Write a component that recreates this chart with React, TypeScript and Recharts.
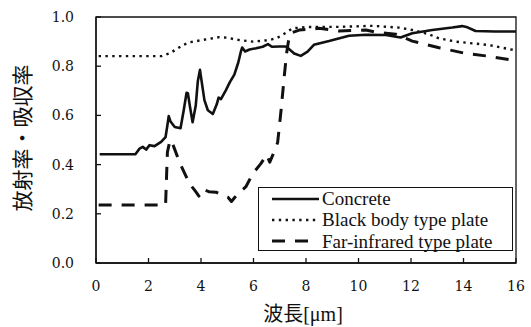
import {
  LineChart,
  Line,
  XAxis,
  YAxis,
  Legend,
  Label,
  ReferenceArea,
} from "recharts";

// wavelength [um], emissivity/absorptivity
const concrete: [number, number][] = [
  [0.14, 0.442], [1.5, 0.442], [1.66, 0.465], [1.78, 0.472], [1.91, 0.461],
  [2.04, 0.479], [2.23, 0.475], [2.48, 0.492], [2.65, 0.512], [2.72, 0.56],
  [2.77, 0.597], [2.84, 0.575], [3.0, 0.553], [3.22, 0.548], [3.34, 0.62],
  [3.45, 0.692], [3.5, 0.69], [3.58, 0.635], [3.68, 0.572], [3.8, 0.64],
  [3.88, 0.74], [3.96, 0.785], [4.05, 0.72], [4.13, 0.662], [4.26, 0.621],
  [4.45, 0.606], [4.6, 0.645], [4.67, 0.672], [4.76, 0.666], [4.95, 0.703],
  [5.1, 0.735], [5.27, 0.766], [5.42, 0.815], [5.52, 0.86], [5.57, 0.876],
  [5.68, 0.86], [5.85, 0.868], [6.1, 0.873], [6.35, 0.879], [6.55, 0.89],
  [6.7, 0.879], [7.0, 0.88], [7.22, 0.88], [7.33, 0.872], [7.55, 0.852],
  [7.8, 0.842], [8.06, 0.859], [8.3, 0.887], [8.88, 0.902], [9.64, 0.924],
  [10.28, 0.928], [11.04, 0.927], [11.6, 0.917], [12.05, 0.934], [12.81, 0.947],
  [13.57, 0.957], [13.95, 0.963], [14.15, 0.958], [14.46, 0.943], [15.2, 0.941],
  [16, 0.941],
];

const blackBody: [number, number][] = [
  [0.1, 0.841], [2.5, 0.841], [2.8, 0.852], [3.05, 0.868], [3.3, 0.885],
  [3.56, 0.897], [4.19, 0.909], [4.7, 0.918], [5.0, 0.916], [5.33, 0.908],
  [5.97, 0.9], [6.6, 0.906], [6.9, 0.915], [7.1, 0.927], [7.49, 0.954],
  [8.0, 0.959], [9.26, 0.96], [10.53, 0.964], [11.54, 0.957], [12.05, 0.947],
  [12.68, 0.93], [13.07, 0.913], [13.7, 0.9], [14.97, 0.886], [16, 0.864],
];

const farInfrared: [number, number][] = [
  [0.1, 0.236], [2.65, 0.236], [2.72, 0.45], [2.82, 0.5], [2.9, 0.49],
  [3.18, 0.41], [3.56, 0.323], [3.8, 0.29], [3.92, 0.272], [4.05, 0.3],
  [4.3, 0.29], [4.57, 0.288], [4.83, 0.275], [5.02, 0.268], [5.16, 0.25],
  [5.3, 0.268], [5.5, 0.29], [5.71, 0.31], [5.97, 0.363], [6.28, 0.404],
  [6.5, 0.44], [6.62, 0.41], [6.78, 0.45], [6.92, 0.49], [7.05, 0.621],
  [7.17, 0.757], [7.26, 0.852], [7.33, 0.9], [7.4, 0.934], [7.74, 0.947],
  [8.5, 0.954], [9.26, 0.943], [10.28, 0.947], [10.66, 0.938], [11.42, 0.93],
  [12.05, 0.902], [13.07, 0.875], [14.08, 0.852], [14.84, 0.842], [16, 0.823],
];

const xTicks = [0, 2, 4, 6, 8, 10, 12, 14, 16];
const yTicks = [0, 0.2, 0.4, 0.6, 0.8, 1.0];

const INK = "#111";
const TICK_FONT = "'DejaVu Serif', serif";
const TEXT_FONT = "'Liberation Serif', 'Noto Sans CJK JP', serif";

const series = [
  { name: "Concrete", data: concrete, width: 2.6, dash: undefined, sample: 47 },
  { name: "Black body type plate", data: blackBody, width: 2.4, dash: "2.4 4.4", sample: 47 },
  { name: "Far-infrared type plate", data: farInfrared, width: 3, dash: "13 10", sample: 38 },
];

const toPoints = (pts: [number, number][]) => pts.map(([x, y]) => ({ x, y }));

function LegendBox() {
  return (
    <div
      style={{
        boxSizing: "border-box",
        width: "100%",
        height: "100%",
        border: `1px solid ${INK}`,
        background: "#fff",
        paddingLeft: 13,
        fontFamily: TEXT_FONT,
        fontSize: 19,
        color: INK,
      }}
    >
      {series.map((s) => (
        <div
          key={s.name}
          style={{ display: "flex", alignItems: "center", height: 21.3, lineHeight: "21px" }}
        >
          <svg width={47} height={8} style={{ marginRight: 3 }}>
            <line
              x1={0}
              x2={s.sample}
              y1={4}
              y2={4}
              stroke={INK}
              strokeWidth={s.width}
              strokeDasharray={s.dash}
            />
          </svg>
          <span>{s.name}</span>
        </div>
      ))}
    </div>
  );
}

function XTitle(props: any) {
  const vb = props.viewBox || {};
  return (
    <text
      x={vb.x + vb.width / 2 - 3}
      y={vb.y + 51}
      textAnchor="middle"
      dominantBaseline="central"
      fontFamily={TEXT_FONT}
      fontSize={20}
      fill={INK}
    >
      波長[μm]
    </text>
  );
}

function YTitle(props: any) {
  const vb = props.viewBox || {};
  const cx = vb.x + 23;
  const cy = vb.y + vb.height / 2 - 2;
  return (
    <text
      x={cx}
      y={cy}
      transform={`rotate(-90, ${cx}, ${cy})`}
      textAnchor="middle"
      dominantBaseline="central"
      fontFamily={TEXT_FONT}
      fontSize={21}
      fill={INK}
    >
      放射率・吸収率
    </text>
  );
}

export default function App() {
  return (
    <div style={{ position: "absolute", left: 0, top: 0, background: "#fff" }}>
      <LineChart
        width={531}
        height={327}
        margin={{ top: 17, right: 15, bottom: 0, left: 0 }}
      >
        <XAxis
          type="number"
          dataKey="x"
          domain={[0, 16]}
          ticks={xTicks}
          allowDataOverflow
          height={64}
          tickSize={-5}
          tickMargin={23}
          axisLine={{ stroke: INK, strokeWidth: 1.3 }}
          tickLine={{ stroke: INK, strokeWidth: 1.3 }}
          tick={{ fill: INK, fontFamily: TICK_FONT, fontSize: 14 }}
        >
          <Label content={<XTitle />} />
        </XAxis>
        <YAxis
          type="number"
          dataKey="y"
          domain={[0, 1]}
          ticks={yTicks}
          allowDataOverflow
          width={96}
          tickSize={-5}
          tickMargin={27}
          tickFormatter={(v: number) => v.toFixed(1)}
          axisLine={{ stroke: INK, strokeWidth: 1.3 }}
          tickLine={{ stroke: INK, strokeWidth: 1.3 }}
          tick={{ fill: INK, fontFamily: TICK_FONT, fontSize: 14 }}
        >
          <Label content={<YTitle />} />
        </YAxis>
        <ReferenceArea
          x1={0}
          x2={16}
          y1={0}
          y2={1}
          fill="none"
          stroke={INK}
          strokeWidth={1.3}
        />
        {series.map((s) => (
          <Line
            key={s.name}
            name={s.name}
            data={toPoints(s.data)}
            dataKey="y"
            type="linear"
            stroke={INK}
            strokeWidth={s.width}
            strokeDasharray={s.dash}
            strokeLinejoin="round"
            dot={false}
            activeDot={false}
            isAnimationActive={false}
          />
        ))}
        <Legend
          verticalAlign="middle"
          align="center"
          content={<LegendBox />}
          wrapperStyle={{ left: 258, top: 187, width: 255, height: 64 }}
        />
      </LineChart>
    </div>
  );
}
